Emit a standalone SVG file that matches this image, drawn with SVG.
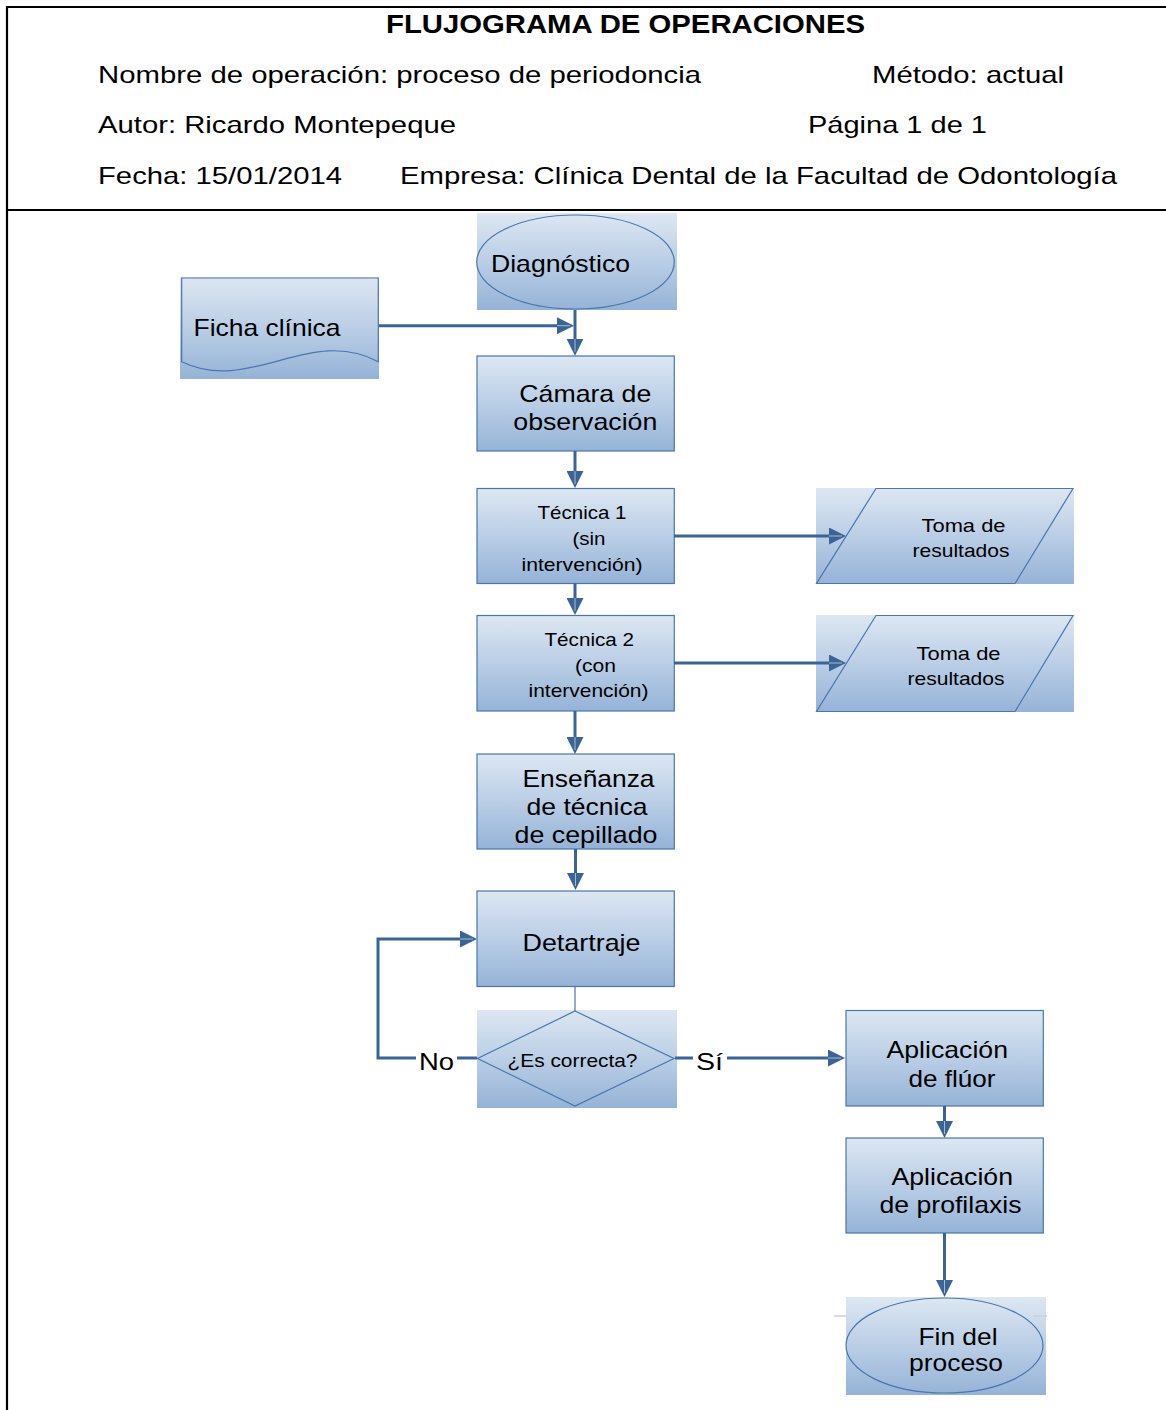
<svg xmlns="http://www.w3.org/2000/svg" width="1166" height="1410" viewBox="0 0 1166 1410">
  <defs>
    <linearGradient id="fillBlue" x1="0" y1="0" x2="0" y2="1">
      <stop offset="0" stop-color="#dde7f2"/>
      <stop offset="0.5" stop-color="#bacee6"/>
      <stop offset="1" stop-color="#95b3d7"/>
    </linearGradient>
    <marker id="arrow" markerUnits="userSpaceOnUse" viewBox="0 0 17 17" markerWidth="17" markerHeight="17" refX="9" refY="8.5" orient="auto">
      <path d="M0,0 L17,8.5 L0,17 Z" fill="#3b6496"/>
      <path d="M0,8.5 L13,8.5" stroke="#ffffff" stroke-width="0.8" opacity="0.7"/>
    </marker>
  </defs>
  <style>
    .frame { stroke: #000; stroke-width: 2.2; fill: none; }
    .box { fill: url(#fillBlue); stroke: none; }
    .outline { fill: none; stroke: #4a76ad; stroke-width: 1.2; }
    .rectnode { fill: url(#fillBlue); stroke: #4a76ad; stroke-width: 1.2; }
    .conn { fill: none; stroke: #3b6496; stroke-width: 3; }
    .thin { fill: none; stroke: #4a76ad; stroke-width: 1.2; }
    .ghost { fill: none; stroke: #c9d2de; stroke-width: 1.5; }
    text { font-family: "Liberation Sans", Arial, sans-serif; fill: #000; }
    .hdr { font-size: 24px; }
    .title { font-size: 25px; font-weight: bold; }
    .big { font-size: 24px; }
    .small { font-size: 18.5px; }
  </style>

  <!-- header frame -->
  <g id="frame">
    <path class="frame" d="M7,1410 V7 H1166"/>
    <path class="frame" d="M7,210 H1166"/>
  </g>

  <!-- header texts -->
  <g id="header">
    <text class="title" x="386" y="33" textLength="479" lengthAdjust="spacingAndGlyphs">FLUJOGRAMA DE OPERACIONES</text>
    <text class="hdr" x="98" y="83" textLength="603" lengthAdjust="spacingAndGlyphs">Nombre de operación: proceso de periodoncia</text>
    <text class="hdr" x="872" y="83" textLength="192" lengthAdjust="spacingAndGlyphs">Método: actual</text>
    <text class="hdr" x="98" y="133" textLength="358" lengthAdjust="spacingAndGlyphs">Autor: Ricardo Montepeque</text>
    <text class="hdr" x="808" y="133" textLength="179" lengthAdjust="spacingAndGlyphs">Página 1 de 1</text>
    <text class="hdr" x="98" y="183.5" textLength="244" lengthAdjust="spacingAndGlyphs">Fecha: 15/01/2014</text>
    <text class="hdr" x="400" y="183.5" textLength="717" lengthAdjust="spacingAndGlyphs">Empresa: Clínica Dental de la Facultad de Odontología</text>
  </g>

  <!-- nodes -->
  <g id="diagnostico">
    <rect class="box" x="477" y="213" width="200" height="97"/>
    <ellipse class="outline" cx="575.5" cy="262" rx="98.8" ry="47"/>
    <text class="big" x="491" y="272.3" textLength="139" lengthAdjust="spacingAndGlyphs">Diagnóstico</text>
  </g>

  <g id="ficha-clinica">
    <rect class="box" x="180" y="277" width="199" height="102"/>
    <path class="outline" d="M181.7,278 H378.3 V361.7 C310,325 250,395 181.7,361.7 Z"/>
    <text class="big" x="193.5" y="336" textLength="147" lengthAdjust="spacingAndGlyphs">Ficha clínica</text>
  </g>

  <g id="camara">
    <rect class="rectnode" x="477" y="356" width="197.3" height="95"/>
    <text class="big" x="519.3" y="401.7" textLength="132" lengthAdjust="spacingAndGlyphs">Cámara de</text>
    <text class="big" x="513.3" y="429.5" textLength="144" lengthAdjust="spacingAndGlyphs">observación</text>
  </g>

  <g id="tecnica-1">
    <rect class="rectnode" x="477" y="488.5" width="197.3" height="95"/>
    <text class="small" x="537.5" y="518.5" textLength="89" lengthAdjust="spacingAndGlyphs">Técnica 1</text>
    <text class="small" x="572.5" y="544.5" textLength="33" lengthAdjust="spacingAndGlyphs">(sin</text>
    <text class="small" x="521.5" y="570.7" textLength="121" lengthAdjust="spacingAndGlyphs">intervención)</text>
  </g>

  <g id="toma-resultados-1">
    <rect class="box" x="816" y="488" width="258" height="96"/>
    <path class="outline" d="M876,488.5 H1073 L1015,583.5 H816.5 Z"/>
    <text class="small" x="921.5" y="531.7" textLength="84" lengthAdjust="spacingAndGlyphs">Toma de</text>
    <text class="small" x="912.5" y="557.3" textLength="97" lengthAdjust="spacingAndGlyphs">resultados</text>
  </g>

  <g id="tecnica-2">
    <rect class="rectnode" x="477" y="615.5" width="197.3" height="95.5"/>
    <text class="small" x="544.5" y="646" textLength="89.5" lengthAdjust="spacingAndGlyphs">Técnica 2</text>
    <text class="small" x="575" y="671.7" textLength="41" lengthAdjust="spacingAndGlyphs">(con</text>
    <text class="small" x="528.5" y="697.3" textLength="120" lengthAdjust="spacingAndGlyphs">intervención)</text>
  </g>

  <g id="toma-resultados-2">
    <rect class="box" x="816" y="615" width="258" height="97"/>
    <path class="outline" d="M876,615.5 H1073 L1015,711.5 H816.5 Z"/>
    <text class="small" x="916.5" y="660" textLength="84" lengthAdjust="spacingAndGlyphs">Toma de</text>
    <text class="small" x="907.5" y="685" textLength="97" lengthAdjust="spacingAndGlyphs">resultados</text>
  </g>

  <g id="ensenanza">
    <rect class="rectnode" x="477" y="754" width="197.3" height="95"/>
    <text class="big" x="522.5" y="786.7" textLength="132" lengthAdjust="spacingAndGlyphs">Enseñanza</text>
    <text class="big" x="526.5" y="815" textLength="121" lengthAdjust="spacingAndGlyphs">de técnica</text>
    <text class="big" x="514.5" y="842.7" textLength="143" lengthAdjust="spacingAndGlyphs">de cepillado</text>
  </g>

  <g id="detartraje">
    <rect class="rectnode" x="477" y="891" width="197.3" height="95.5"/>
    <text class="big" x="522.5" y="950.5" textLength="118" lengthAdjust="spacingAndGlyphs">Detartraje</text>
  </g>

  <g id="es-correcta">
    <rect class="box" x="477" y="1010" width="200" height="98"/>
    <path class="outline" d="M575,1011 L674,1058.5 L575,1106 L477.5,1058.5 Z"/>
    <text class="small" x="507.5" y="1066.5" textLength="130" lengthAdjust="spacingAndGlyphs">¿Es correcta?</text>
  </g>

  <g id="aplicacion-fluor">
    <rect class="rectnode" x="846" y="1010.5" width="197.3" height="95.5"/>
    <text class="big" x="886.5" y="1058" textLength="121.5" lengthAdjust="spacingAndGlyphs">Aplicación</text>
    <text class="big" x="908.5" y="1086.5" textLength="87" lengthAdjust="spacingAndGlyphs">de flúor</text>
  </g>

  <g id="aplicacion-profilaxis">
    <rect class="rectnode" x="846" y="1138" width="197.3" height="95"/>
    <text class="big" x="891.5" y="1185" textLength="121.5" lengthAdjust="spacingAndGlyphs">Aplicación</text>
    <text class="big" x="879.5" y="1213" textLength="142" lengthAdjust="spacingAndGlyphs">de profilaxis</text>
  </g>

  <g id="fin-proceso">
    <rect class="box" x="846" y="1297" width="200" height="98"/>
    <path class="ghost" d="M834,1316 H846 M1033,1316 H1047"/>
    <ellipse class="outline" cx="944.5" cy="1345.5" rx="98.5" ry="47.5"/>
    <text class="big" x="918.5" y="1345" textLength="79" lengthAdjust="spacingAndGlyphs">Fin del</text>
    <text class="big" x="909" y="1371" textLength="94" lengthAdjust="spacingAndGlyphs">proceso</text>
  </g>

  <!-- connectors, drawn over the shapes so arrowheads reach into them -->
  <g id="connectors">
    <path class="conn" d="M379,325.7 H566" marker-end="url(#arrow)"/>
    <path class="conn" d="M575,310 V347.7" marker-end="url(#arrow)"/>
    <path class="conn" d="M575,451 V480" marker-end="url(#arrow)"/>
    <path class="conn" d="M575,583.5 V607" marker-end="url(#arrow)"/>
    <path class="conn" d="M575,711 V746" marker-end="url(#arrow)"/>
    <path class="conn" d="M575.5,849 V882" marker-end="url(#arrow)"/>
    <path class="conn" d="M674,536 H838" marker-end="url(#arrow)"/>
    <path class="conn" d="M674,663 H838" marker-end="url(#arrow)"/>
    <path class="thin" d="M575,987 V1011"/>
    <path class="conn" d="M477,1058 H378 V939 H469" marker-end="url(#arrow)"/>
    <path class="conn" d="M675,1058 H837" marker-end="url(#arrow)"/>
    <path class="conn" d="M944.5,1106 V1130" marker-end="url(#arrow)"/>
    <path class="conn" d="M944.5,1233 V1289" marker-end="url(#arrow)"/>
    <!-- branch labels -->
    <rect x="416" y="1046" width="41" height="28" fill="#fff"/>
    <text class="big" x="419" y="1070" textLength="35" lengthAdjust="spacingAndGlyphs">No</text>
    <rect x="693" y="1046" width="34" height="28" fill="#fff"/>
    <text class="big" x="696" y="1070" textLength="27" lengthAdjust="spacingAndGlyphs">Sí</text>
  </g>
</svg>
